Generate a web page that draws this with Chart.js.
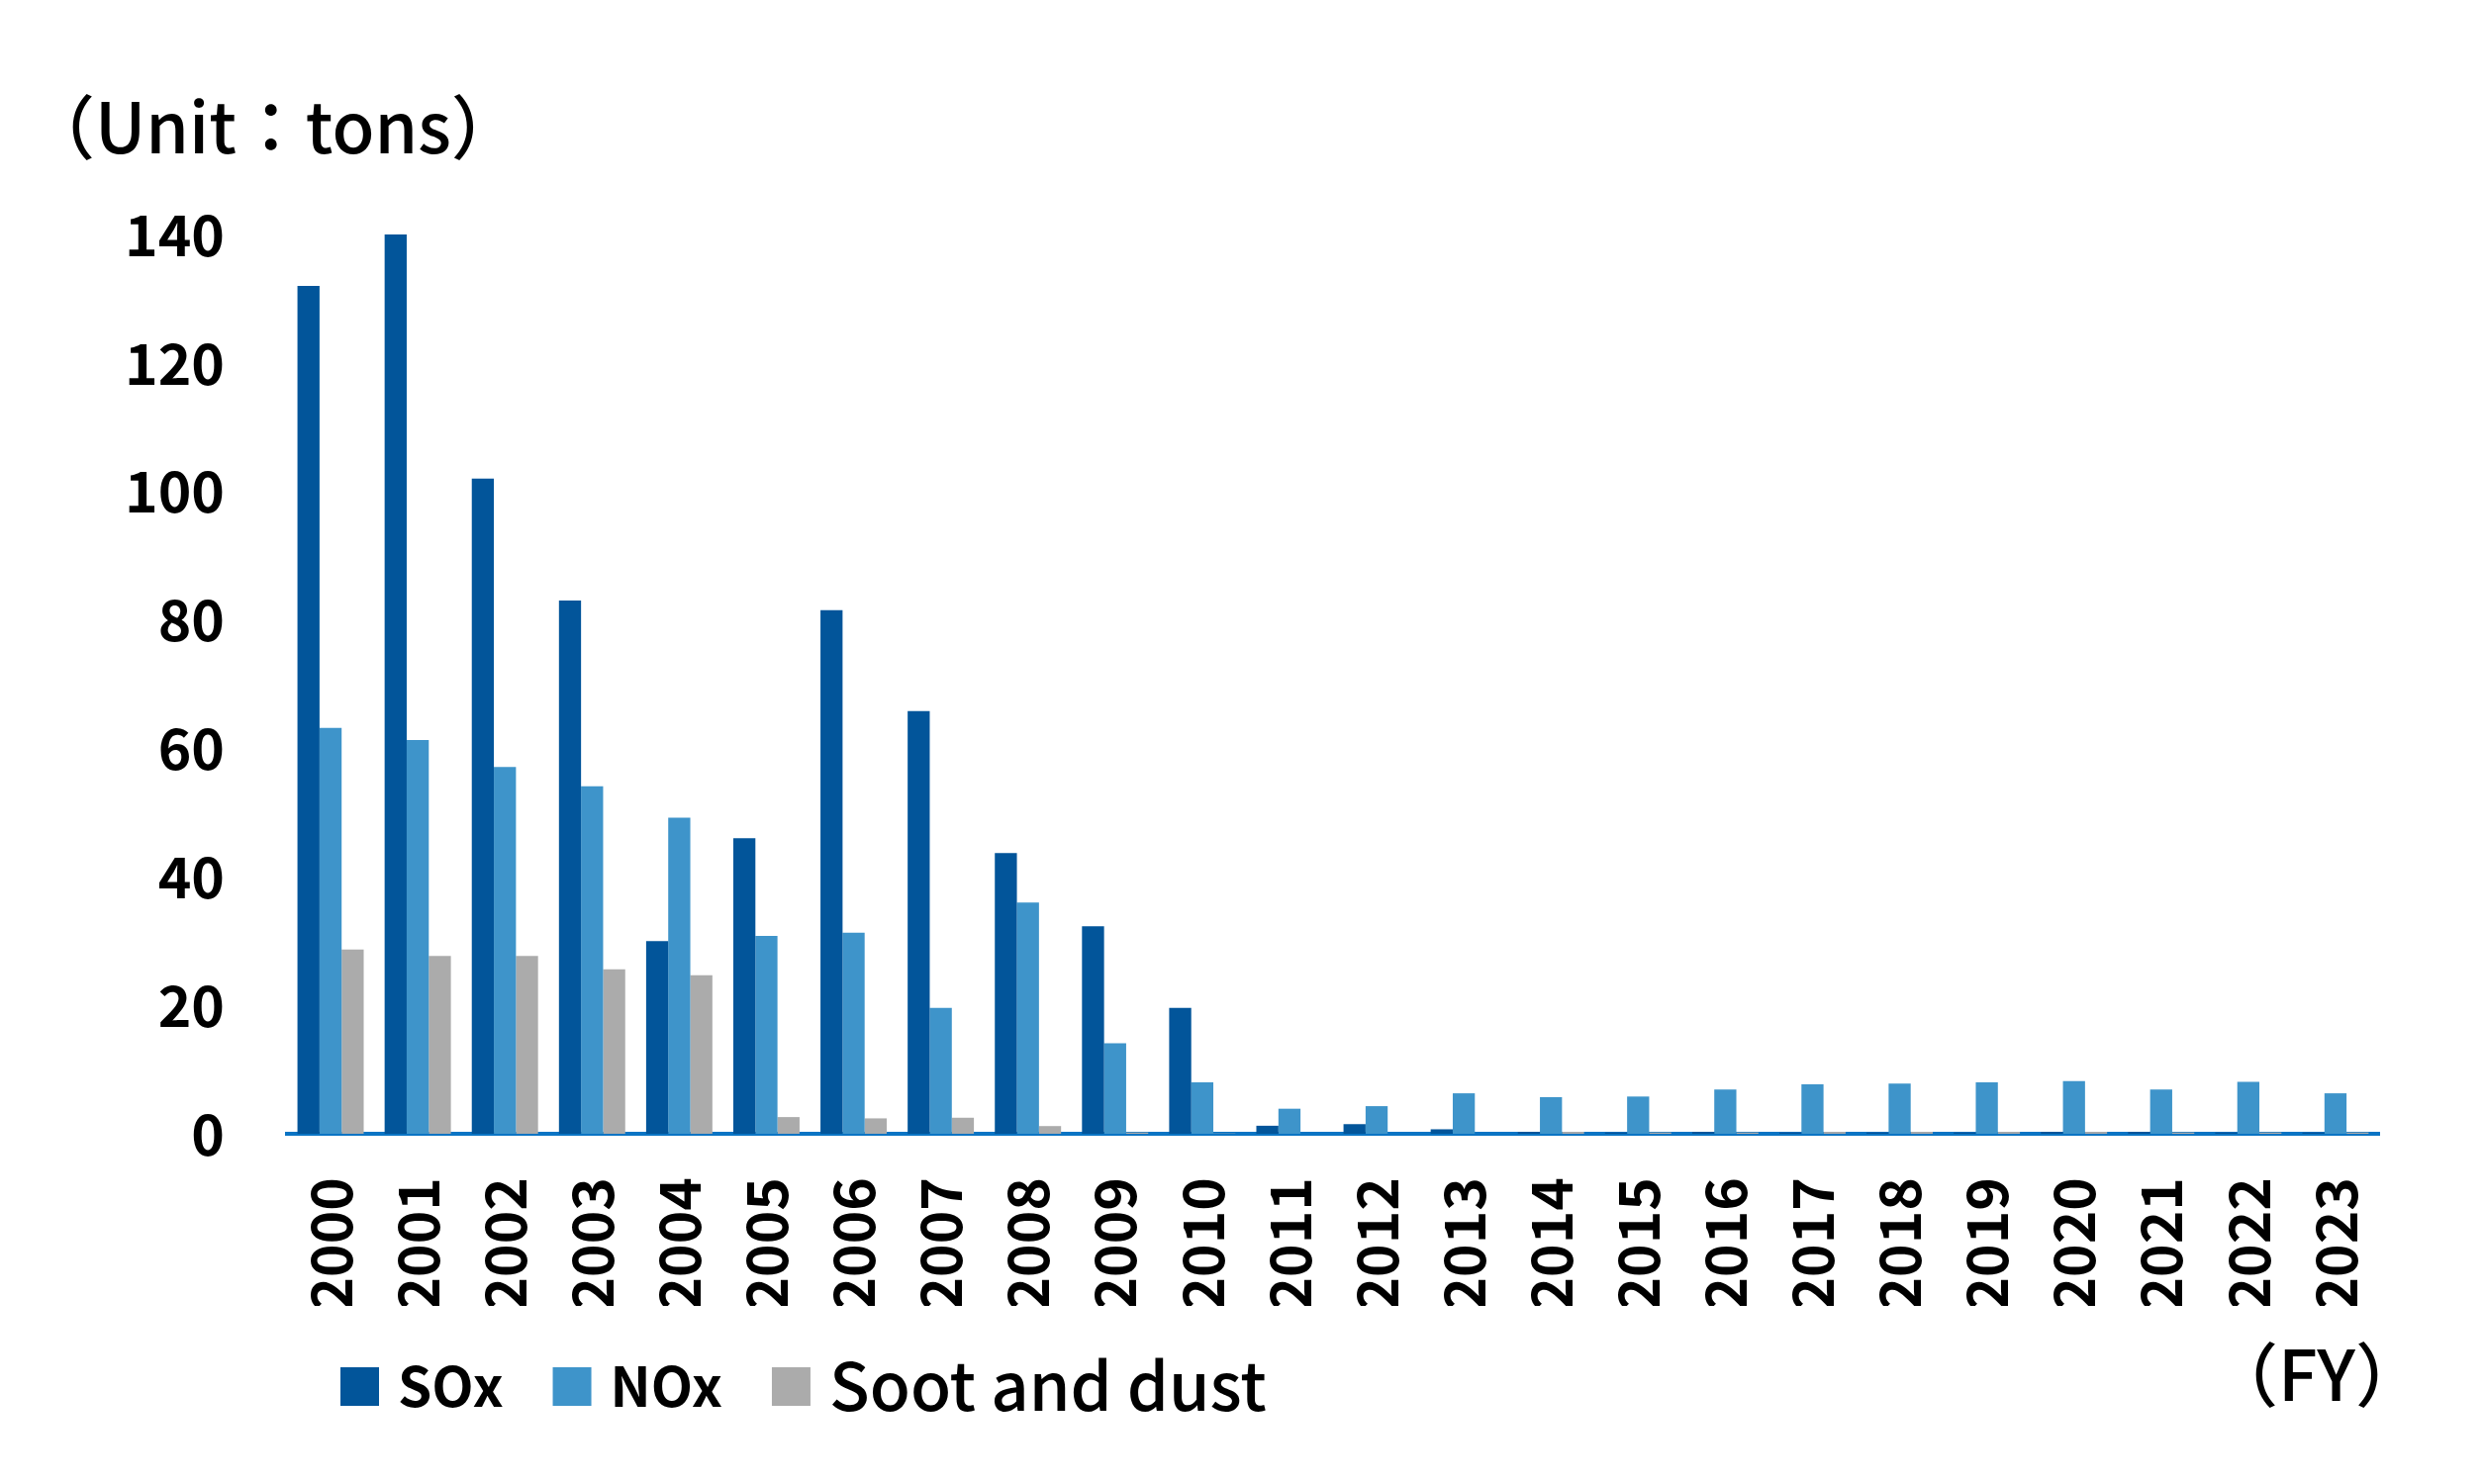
<!DOCTYPE html>
<html>
<head>
<meta charset="utf-8">
<script src="https://cdn.jsdelivr.net/npm/chart.js@4.4.1/dist/chart.umd.min.js"></script>
<style>
  html, body { margin: 0; padding: 0; background: #fff; }
  #wrap { width: 2509px; height: 1500px; position: relative; }
</style>
</head>
<body>
<div id="wrap"><canvas id="chart"></canvas></div>
<script>
// Air emissions by fiscal year (tons)
const years = ['2000', '2001', '2002', '2003', '2004', '2005', '2006', '2007', '2008', '2009', '2010', '2011',
               '2012', '2013', '2014', '2015', '2016', '2017', '2018', '2019', '2020', '2021', '2022', '2023'];
const soxValues  = [132, 140, 102, 83, 30, 46, 81.5, 65.8, 43.7, 32.3, 19.6, 1.25,
                    1.5, 0.7, 0.3, 0.2, 0.3, 0.2, 0.2, 0.2, 0.3, 0.3, 0.2, 0.2];
const noxValues  = [63.2, 61.3, 57.1, 54.1, 49.2, 30.8, 31.3, 19.6, 36, 14.1, 8, 3.9,
                    4.3, 6.3, 5.7, 5.8, 6.9, 7.7, 7.8, 8, 8.2, 6.9, 8.1, 6.3];
const sootValues = [28.7, 27.7, 27.7, 25.6, 24.7, 2.6, 2.4, 2.5, 1.2, 0.2, 0.05, 0,
                    0, 0, 0.3, 0.2, 0.2, 0.3, 0.3, 0.3, 0.3, 0.2, 0.2, 0.2];
const seriesNames = ['SOx', 'NOx', 'Soot and dust'];
const yTicks = [0, 20, 40, 60, 80, 100, 120, 140];
const unitLabel = '（Unit：tons）';
const fyLabel = '（FY）';

const FONT = '"Noto Sans CJK JP", "Noto Sans", sans-serif';
const colors = ['#02559A', '#3E94CA', '#ABABAB'];
const legendFonts = ['bold 55px ' + FONT, 'bold 55px ' + FONT, '500 67px ' + FONT];

// texts placed outside the axes: unit note, FY note and the legend row
const extraText = {
  id: 'extraText',
  afterDraw(chart) {
    const ctx = chart.ctx;
    const area = chart.chartArea;
    ctx.save();
    ctx.textBaseline = 'middle';
    ctx.fillStyle = '#000';
    ctx.font = '500 70px ' + FONT;
    ctx.textAlign = 'left';
    ctx.fillText(unitLabel, 26, 128);
    ctx.textAlign = 'right';
    ctx.fillText(fyLabel, area.right + 46, area.bottom + 243);

    let x = 344;
    const cy = area.bottom + 255;
    chart.data.datasets.forEach((ds, i) => {
      ctx.fillStyle = ds.backgroundColor;
      ctx.fillRect(x, cy - 19, 39, 39);
      x += 39 + 19;
      ctx.font = legendFonts[i];
      ctx.fillStyle = '#000';
      ctx.textAlign = 'left';
      ctx.fillText(ds.label, x, cy);
      x += ctx.measureText(ds.label).width + 50;
    });
    ctx.restore();
  }
};

const valueSets = [soxValues, noxValues, sootValues];

new Chart(document.getElementById('chart'), {
  type: 'bar',
  data: {
    labels: years,
    datasets: seriesNames.map((name, i) => ({
      label: name,
      data: valueSets[i],
      backgroundColor: colors[i],
      borderWidth: 0,
      barPercentage: 1,
      categoryPercentage: 0.76
    }))
  },
  options: {
    responsive: true,
    maintainAspectRatio: false,
    devicePixelRatio: 1,
    animation: false,
    layout: { padding: { left: 50, right: 105, top: 237, bottom: 180 } },
    plugins: {
      legend: { display: false },
      tooltip: { enabled: false }
    },
    scales: {
      x: {
        z: 1,
        grid: { display: false, drawTicks: false },
        border: { display: true, color: '#0A74C4', width: 4 },
        ticks: {
          autoSkip: false,
          minRotation: 90,
          maxRotation: 90,
          padding: 44,
          color: '#000',
          font: { family: FONT, size: 57, weight: 'bold' }
        },
        afterFit(scale) { scale.height = 174; }
      },
      y: {
        min: 0,
        max: 140,
        grid: { display: false, drawTicks: false },
        border: { display: false },
        ticks: {
          padding: 63,
          color: '#000',
          font: { family: FONT, size: 57, weight: 'bold' }
        },
        afterBuildTicks(scale) { scale.ticks = yTicks.map(v => ({ value: v })); },
        afterFit(scale) { scale.width = 240; }
      }
    }
  },
  plugins: [extraText]
});
</script>
</body>
</html>
